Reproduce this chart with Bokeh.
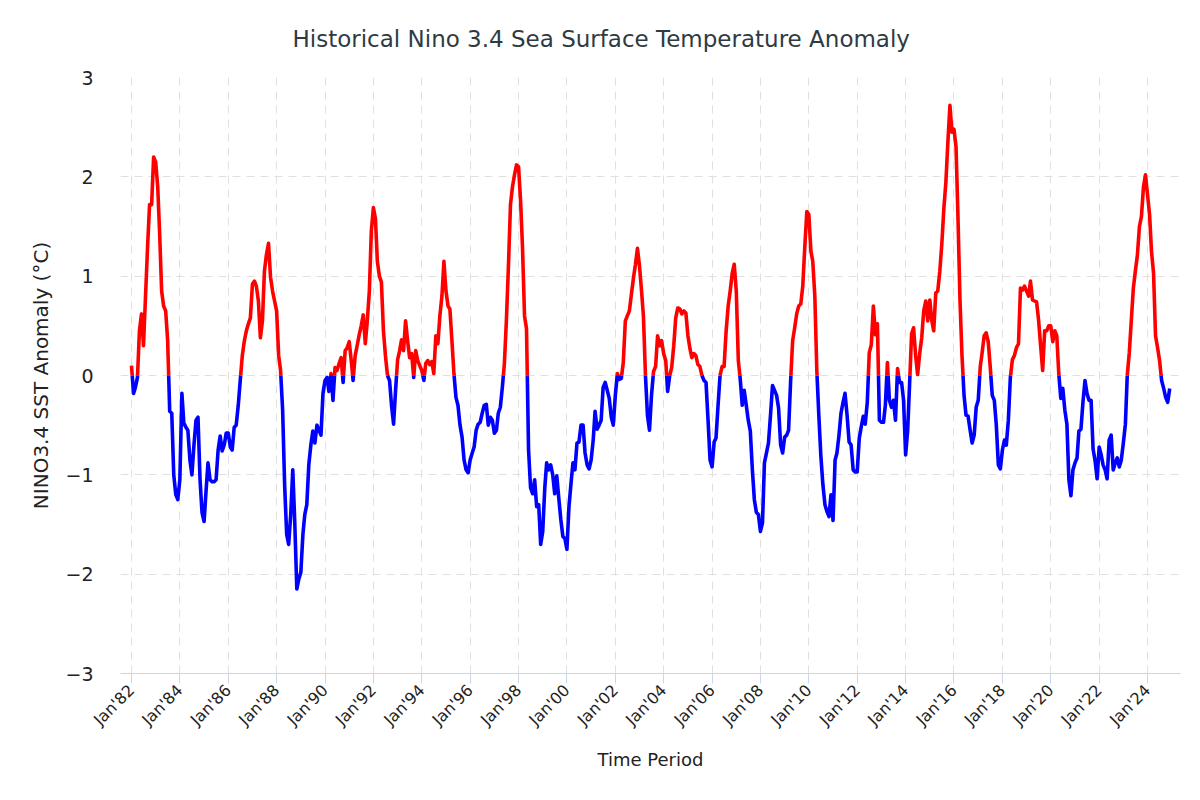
import math
import numpy as np
import pandas as pd
from bokeh.plotting import figure
from bokeh.models import FixedTicker, DatetimeTickFormatter, Range1d
from bokeh.embed import file_html
from bokeh.resources import INLINE

# Monthly Nino 3.4 SST anomaly (deg C), Jan..Dec
sst_1982 = [0.10, -0.18, -0.12, -0.02, 0.45, 0.62, 0.30, 0.80, 1.30, 1.72, 1.72, 2.20]
sst_1983 = [2.15, 1.90, 1.45, 0.85, 0.70, 0.65, 0.35, -0.36, -0.38, -1.00, -1.20, -1.25]
sst_1984 = [-1.05, -0.18, -0.48, -0.52, -0.55, -0.85, -1.00, -0.70, -0.45, -0.42, -1.05, -1.38]
sst_1985 = [-1.47, -1.15, -0.88, -1.05, -1.07, -1.07, -1.05, -0.75, -0.61, -0.76, -0.70, -0.58]
sst_1986 = [-0.58, -0.72, -0.75, -0.52, -0.50, -0.30, -0.05, 0.20, 0.35, 0.45, 0.52, 0.58]
sst_1987 = [0.92, 0.95, 0.90, 0.75, 0.38, 0.55, 1.05, 1.22, 1.33, 0.99, 0.85, 0.75]
sst_1988 = [0.65, 0.20, 0.05, -0.35, -1.10, -1.60, -1.70, -1.40, -0.95, -1.48, -2.15, -2.05]
sst_1989 = [-1.98, -1.60, -1.40, -1.30, -0.90, -0.70, -0.56, -0.68, -0.50, -0.55, -0.60, -0.18]
sst_1990 = [-0.05, -0.02, -0.16, 0.02, -0.25, 0.08, 0.05, 0.12, 0.18, -0.07, 0.25, 0.28]
sst_1991 = [0.34, 0.15, -0.05, 0.20, 0.30, 0.41, 0.50, 0.61, 0.32, 0.55, 0.85, 1.45]
sst_1992 = [1.69, 1.58, 1.15, 1.00, 0.94, 0.45, 0.20, 0.00, -0.05, -0.30, -0.49, -0.15]
sst_1993 = [0.16, 0.25, 0.36, 0.25, 0.55, 0.35, 0.18, 0.22, -0.02, 0.25, 0.15, 0.10]
sst_1994 = [0.05, -0.05, 0.12, 0.15, 0.11, 0.14, 0.02, 0.40, 0.32, 0.60, 0.80, 1.15]
sst_1995 = [0.85, 0.70, 0.67, 0.35, 0.02, -0.22, -0.30, -0.50, -0.62, -0.85, -0.95, -0.98]
sst_1996 = [-0.85, -0.78, -0.72, -0.55, -0.49, -0.47, -0.38, -0.30, -0.29, -0.50, -0.42, -0.45]
sst_1997 = [-0.58, -0.55, -0.38, -0.32, -0.12, 0.12, 0.55, 1.10, 1.72, 1.90, 2.02, 2.12]
sst_1998 = [2.10, 1.75, 1.30, 0.60, 0.47, -0.75, -1.13, -1.19, -1.05, -1.32, -1.30, -1.70]
sst_1999 = [-1.57, -1.13, -0.88, -0.95, -0.90, -1.00, -1.19, -1.01, -1.24, -1.45, -1.62, -1.64]
sst_2000 = [-1.75, -1.32, -1.10, -0.88, -0.95, -0.68, -0.67, -0.50, -0.50, -0.78, -0.90, -0.94]
sst_2001 = [-0.85, -0.65, -0.36, -0.54, -0.50, -0.45, -0.12, -0.07, -0.15, -0.23, -0.42, -0.50]
sst_2002 = [-0.20, 0.02, -0.04, -0.03, 0.13, 0.55, 0.60, 0.65, 0.82, 0.98, 1.12, 1.28]
sst_2003 = [1.10, 0.85, 0.60, 0.00, -0.40, -0.55, -0.20, 0.04, 0.09, 0.40, 0.30, 0.35]
sst_2004 = [0.22, 0.15, -0.16, 0.00, 0.08, 0.30, 0.58, 0.68, 0.67, 0.62, 0.65, 0.63]
sst_2005 = [0.40, 0.27, 0.18, 0.22, 0.20, 0.11, 0.09, 0.00, -0.05, -0.07, -0.45, -0.85]
sst_2006 = [-0.92, -0.67, -0.63, -0.30, 0.00, 0.09, 0.09, 0.45, 0.70, 0.85, 1.03, 1.12]
sst_2007 = [0.85, 0.15, -0.03, -0.30, -0.15, -0.30, -0.45, -0.56, -0.95, -1.25, -1.38, -1.40]
sst_2008 = [-1.57, -1.48, -0.88, -0.78, -0.68, -0.40, -0.10, -0.15, -0.20, -0.33, -0.70, -0.78]
sst_2009 = [-0.62, -0.60, -0.55, -0.05, 0.35, 0.48, 0.62, 0.70, 0.72, 0.90, 1.30, 1.65]
sst_2010 = [1.62, 1.25, 1.15, 0.80, 0.05, -0.41, -0.81, -1.10, -1.30, -1.37, -1.42, -1.20]
sst_2011 = [-1.46, -0.85, -0.78, -0.60, -0.38, -0.27, -0.18, -0.40, -0.67, -0.70, -0.95, -0.97]
sst_2012 = [-0.97, -0.63, -0.52, -0.41, -0.49, -0.27, 0.23, 0.31, 0.70, 0.41, 0.52, -0.45]
sst_2013 = [-0.47, -0.47, -0.30, 0.13, -0.25, -0.32, -0.25, -0.45, 0.07, -0.07, -0.07, -0.25]
sst_2014 = [-0.80, -0.55, -0.10, 0.42, 0.48, 0.20, 0.01, 0.22, 0.38, 0.65, 0.75, 0.55]
sst_2015 = [0.76, 0.55, 0.45, 0.83, 0.85, 1.05, 1.32, 1.68, 1.95, 2.35, 2.72, 2.45]
sst_2016 = [2.48, 2.30, 1.60, 0.75, 0.20, -0.20, -0.40, -0.41, -0.55, -0.68, -0.60, -0.32]
sst_2017 = [-0.25, 0.09, 0.23, 0.40, 0.43, 0.34, 0.09, -0.20, -0.25, -0.50, -0.90, -0.94]
sst_2018 = [-0.75, -0.65, -0.70, -0.45, -0.02, 0.16, 0.20, 0.28, 0.32, 0.88, 0.86, 0.90]
sst_2019 = [0.85, 0.80, 0.95, 0.76, 0.75, 0.74, 0.56, 0.30, 0.05, 0.45, 0.45, 0.50]
sst_2020 = [0.50, 0.34, 0.45, 0.40, 0.02, -0.23, -0.13, -0.35, -0.49, -1.05, -1.21, -0.95]
sst_2021 = [-0.88, -0.83, -0.56, -0.54, -0.27, -0.05, -0.18, -0.25, -0.25, -0.74, -0.86, -1.04]
sst_2022 = [-0.72, -0.80, -0.90, -0.95, -1.04, -0.65, -0.60, -0.95, -0.88, -0.83, -0.92, -0.85]
sst_2023 = [-0.68, -0.49, 0.00, 0.23, 0.55, 0.88, 1.05, 1.21, 1.50, 1.60, 1.90, 2.02]
sst_2024 = [1.82, 1.62, 1.25, 1.03, 0.40, 0.28, 0.15, -0.05, -0.13, -0.22, -0.27, -0.13]

yearly = [sst_1982, sst_1983, sst_1984, sst_1985, sst_1986, sst_1987, sst_1988,
          sst_1989, sst_1990, sst_1991, sst_1992, sst_1993, sst_1994, sst_1995,
          sst_1996, sst_1997, sst_1998, sst_1999, sst_2000, sst_2001, sst_2002,
          sst_2003, sst_2004, sst_2005, sst_2006, sst_2007, sst_2008, sst_2009,
          sst_2010, sst_2011, sst_2012, sst_2013, sst_2014, sst_2015, sst_2016,
          sst_2017, sst_2018, sst_2019, sst_2020, sst_2021, sst_2022, sst_2023,
          sst_2024]
start_month = "1982-01-01"

tick_years = list(range(1982, 2025, 2))
y_ticks = [-3, -2, -1, 0, 1, 2, 3]
y_tick_labels = {-3: "\u22123", -2: "\u22122", -1: "\u22121", 0: "0", 1: "1", 2: "2", 3: "3"}

title_text = "Historical Nino 3.4 Sea Surface Temperature Anomaly"
x_title = "Time Period"
y_title = "NINO3.4 SST Anomaly (\u00b0C)"

values = np.array([v for yr in yearly for v in yr], dtype=float)
dates = pd.date_range(start_month, periods=len(values), freq="MS")
t = dates.values.astype("datetime64[ms]").astype(np.int64).astype(float)

# split the line where it crosses zero (red above, blue below)
xs = [t[0]]
ys = [values[0]]
for i in range(1, len(values)):
    y0, y1 = values[i - 1], values[i]
    if (y0 > 0 and y1 < 0) or (y0 < 0 and y1 > 0):
        f = y0 / (y0 - y1)
        xs.append(t[i - 1] + f * (t[i] - t[i - 1]))
        ys.append(0.0)
    xs.append(t[i])
    ys.append(y1)
xs = np.array(xs)
ys = np.array(ys)
pos = np.where(ys >= 0, ys, np.nan)
neg = np.where(ys <= 0, ys, np.nan)

day = 86400000.0
x_start = pd.Timestamp("1982-01-01").value / 1e6 - 166 * day
x_end = pd.Timestamp("2024-01-01").value / 1e6 + 498 * day

p = figure(width=1196, height=796, x_axis_type="datetime",
           x_range=Range1d(x_start, x_end), y_range=Range1d(-3, 3),
           output_backend="svg", toolbar_location=None,
           min_border_left=120, min_border_right=16,
           min_border_top=77, min_border_bottom=123)

p.title.text = title_text
p.title.align = "left"
p.title.offset = 172
p.title.vertical_align = "top"
p.title.text_font = "DejaVu Sans"
p.title.text_font_size = "23px"
p.title.text_font_style = "normal"
p.title.text_color = "#2e3b42"
p.title.standoff = 48

p.outline_line_color = None
p.background_fill_color = "white"
p.border_fill_color = "white"

p.line(xs, pos, line_color="#ff0000", line_width=3.6, line_join="round")
p.line(xs, neg, line_color="#0000ff", line_width=3.6, line_join="round")

xticks = [pd.Timestamp(f"{y}-01-01").value / 1e6 for y in tick_years]
p.xaxis.ticker = FixedTicker(ticks=xticks)
p.xgrid.ticker = FixedTicker(ticks=xticks)
p.xaxis.formatter = DatetimeTickFormatter(years="%b'%y", months="%b'%y",
                                          days="%b'%y", hours="%b'%y")
p.xaxis.major_label_orientation = math.pi / 4
p.xaxis.axis_line_color = "#ccd6eb"
p.xaxis.major_tick_line_color = "#ccd6eb"
p.xaxis.major_tick_out = 10
p.xaxis.major_tick_in = 0
p.xaxis.minor_tick_line_color = None
p.xaxis.major_label_text_font = "DejaVu Sans"
p.xaxis.major_label_text_font_size = "16px"
p.xaxis.major_label_text_color = "#222222"
p.xaxis.major_label_standoff = 4
p.xaxis.axis_label = x_title
p.xaxis.axis_label_text_font = "DejaVu Sans"
p.xaxis.axis_label_text_font_size = "18px"
p.xaxis.axis_label_text_font_style = "normal"
p.xaxis.axis_label_text_color = "#222222"
p.xaxis.axis_label_standoff = 10

p.yaxis.ticker = FixedTicker(ticks=y_ticks)
p.ygrid.ticker = FixedTicker(ticks=y_ticks)
p.yaxis.major_label_overrides = y_tick_labels
p.yaxis.axis_line_color = None
p.yaxis.major_tick_line_color = None
p.yaxis.minor_tick_line_color = None
p.yaxis.major_label_text_font = "DejaVu Sans"
p.yaxis.major_label_text_font_size = "19px"
p.yaxis.major_label_text_color = "#222222"
p.yaxis.major_label_standoff = 21
p.yaxis.axis_label = y_title
p.yaxis.axis_label_text_font = "DejaVu Sans"
p.yaxis.axis_label_text_font_size = "20px"
p.yaxis.axis_label_text_font_style = "normal"
p.yaxis.axis_label_text_color = "#222222"
p.yaxis.axis_label_standoff = 9

for g in (p.xgrid, p.ygrid):
    g.grid_line_color = "#e0e0e0"
    g.grid_line_dash = "8 6"
    g.grid_line_width = 1

open("out.html", "w").write(file_html(p, INLINE))
